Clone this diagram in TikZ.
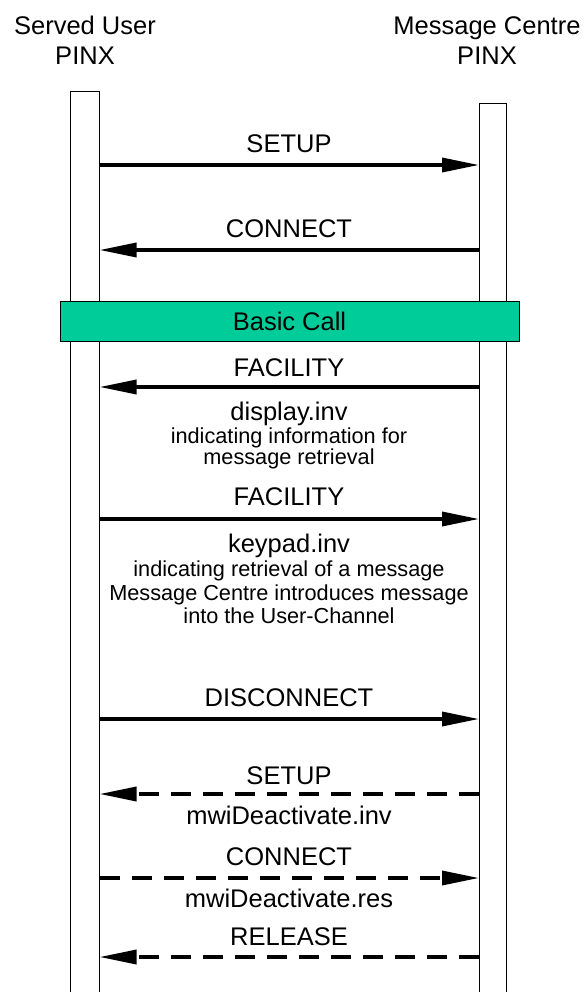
\documentclass[tikz,border=0pt]{standalone}
\usepackage{fontspec}
\setmainfont{Liberation Sans}
\usetikzlibrary{arrows.meta}
\usetikzlibrary{positioning}
\definecolor{basiccall}{RGB}{0,204,153}
\tikzset{
    lifeline/.style={draw=black, line width=1pt},
    message/.style={draw=black, line width=3.5pt,
        -{Triangle[length=37pt,width=14pt]}},
    dmessage/.style={message, dash pattern=on 20pt off 12pt},
    header/.style={font=\fontsize{25.5}{30}\selectfont, align=center, anchor=base, inner sep=0pt},
    msglabel/.style={font=\fontsize{25.5}{30}\selectfont, anchor=base, inner sep=0pt},
    msgnote/.style={font=\fontsize{21.7}{23}\selectfont, anchor=base, inner sep=0pt},
    phase/.style={draw=black, line width=1pt, fill=basiccall, inner sep=0pt,
        minimum width=459pt, minimum height=40pt, font=\fontsize{25.5}{30}\selectfont},
}

\begin{document}
\begin{tikzpicture}[x=1pt, y=-1pt]
	\useasboundingbox (0,0) rectangle (584,992);
	% the two PINXs
	\node[header] (su) at (85,35) {Served User};
	\node[header] (supinx) at (85,65) {PINX};
	\node[header] (mc) at (487,35) {Message Centre};
	\node[header] (mcpinx) at (487,65) {PINX};
	\draw[lifeline] (70,1000) |- (99.5,92) -- (99.5,1000);
	\draw[lifeline] (479,1000) |- (506,104) -- (506,1000);
	% basic call
	\coordinate (su1) at (99.5,165);  \coordinate (mc1) at (479,165);
	\coordinate (su2) at (99.5,250);  \coordinate (mc2) at (479,250);
	\draw[message] (su1) -- (mc1);
	\node[msglabel] (setup) at (289,153) {SETUP};
	\draw[message] (mc2) -- (su2);
	\node[msglabel] (connect) at (289,237) {CONNECT};
	\node[phase] (basic) at (289.5,321) {Basic Call};
	% message retrieval
	\coordinate (su3) at (99.5,387);  \coordinate (mc3) at (479,387);
	\coordinate (su4) at (99.5,519);  \coordinate (mc4) at (479,519);
	\draw[message] (mc3) -- (su3);
	\node[msglabel] (fac1) at (289,376) {FACILITY};
	\node[msglabel] (display) at (289,420) {display.inv};
	\node[msgnote] (dnote1) at (289,443) {indicating information for};
	\node[msgnote] (dnote2) at (289,464) {message retrieval};
	\draw[message] (su4) -- (mc4);
	\node[msglabel] (fac2) at (289,505) {FACILITY};
	\node[msglabel] (keypad) at (289,552) {keypad.inv};
	\node[msgnote] (knote1) at (289,576) {indicating retrieval of a message};
	\node[msgnote] (knote2) at (289,600) {Message Centre introduces message};
	\node[msgnote] (knote3) at (289,623) {into the User-Channel};
	% clearing and deactivation
	\coordinate (su5) at (99.5,719);  \coordinate (mc5) at (479,719);
	\coordinate (su6) at (99.5,794);  \coordinate (mc6) at (479,794);
	\coordinate (su7) at (99.5,878);  \coordinate (mc7) at (479,878);
	\coordinate (su8) at (99.5,957);  \coordinate (mc8) at (479,957);
	\draw[message] (su5) -- (mc5);
	\node[msglabel] (disc) at (289,706) {DISCONNECT};
	\draw[dmessage] (mc6) -- (su6);
	\node[msglabel] (setup2) at (289,784) {SETUP};
	\node[msglabel] (deactinv) at (289,824) {mwiDeactivate.inv};
	\draw[dmessage] (su7) -- (mc7);
	\node[msglabel] (connect2) at (289,865) {CONNECT};
	\node[msglabel] (deactres) at (289,907) {mwiDeactivate.res};
	\draw[dmessage] (mc8) -- (su8);
	\node[msglabel] (release) at (289,945) {RELEASE};
\end{tikzpicture}
\end{document}
